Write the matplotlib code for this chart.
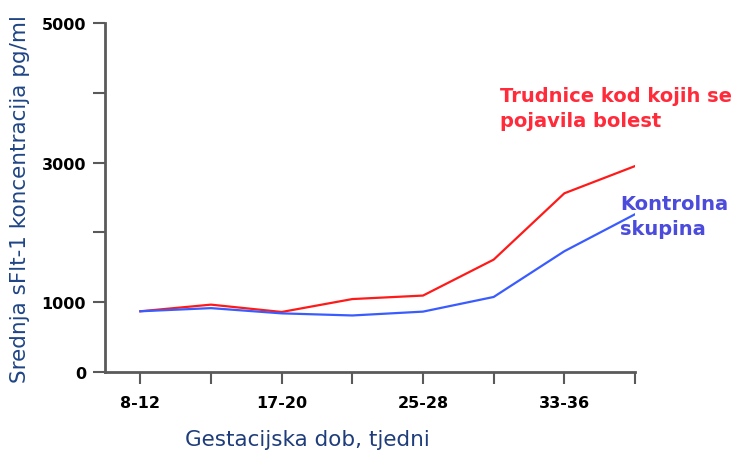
import matplotlib
matplotlib.use("Agg")
import matplotlib.pyplot as plt

positions = [0, 1, 2, 3, 4, 5, 6, 7]
tick_labels = ["8-12", "", "17-20", "", "25-28", "", "33-36", ""]
bolest = [870, 965, 860, 1045, 1095, 1610, 2560, 2950]
kontrola = [870, 915, 840, 810, 865, 1075, 1730, 2260]
y_ticks = [0, 1000, 2000, 3000, 4000, 5000]
y_tick_labels = ["0", "1000", "", "3000", "", "5000"]

fig = plt.figure(figsize=(7.42, 4.52), dpi=100)
ax = fig.add_axes([105/742, 1-373/452, 530/742, 349/452])

ax.plot(positions, bolest, color="#ff1a1a", lw=1.6)
ax.plot(positions, kontrola, color="#3a5cff", lw=1.6)

ax.set_xlim(-0.5, 7)
ax.set_ylim(0, 5000)
ax.set_xticks(positions)
ax.set_xticklabels(tick_labels, fontsize=11.5, fontweight="bold", family="DejaVu Sans")
ax.set_yticks(y_ticks)
ax.set_yticklabels(y_tick_labels, fontsize=11.5, fontweight="bold", family="DejaVu Sans")

for s in ["top", "right"]:
    ax.spines[s].set_visible(False)
for s in ["left", "bottom"]:
    ax.spines[s].set_color("#5a5a5a")
    ax.spines[s].set_linewidth(2)
ax.tick_params(axis="both", color="#5a5a5a", width=1.5, length=8.6, direction="out")
ax.tick_params(axis="x", pad=8)
ax.tick_params(axis="y", pad=5)

fig.text(20/742, 1-199/452, "Srednja sFlt-1 koncentracija pg/ml", fontsize=15.5,
         color="#1f4585", family="DejaVu Sans", rotation=90, ha="center", va="center")
fig.text(307/742, 1-440/452, "Gestacijska dob, tjedni", fontsize=15.5, color="#1f3d7a",
         family="DejaVu Sans", ha="center", va="center")

fig.text(500/742, 1-109/452, "Trudnice kod kojih se\npojavila bolest", fontsize=14,
         color="#ff2a3a", fontweight="bold", family="DejaVu Sans",
         ha="left", va="center", linespacing=1.4)
fig.text(620/742, 1-217/452, "Kontrolna\nskupina", fontsize=14,
         color="#4b4bdc", fontweight="bold", family="DejaVu Sans",
         ha="left", va="center", linespacing=1.4)

fig.savefig("out.png", dpi=100)
